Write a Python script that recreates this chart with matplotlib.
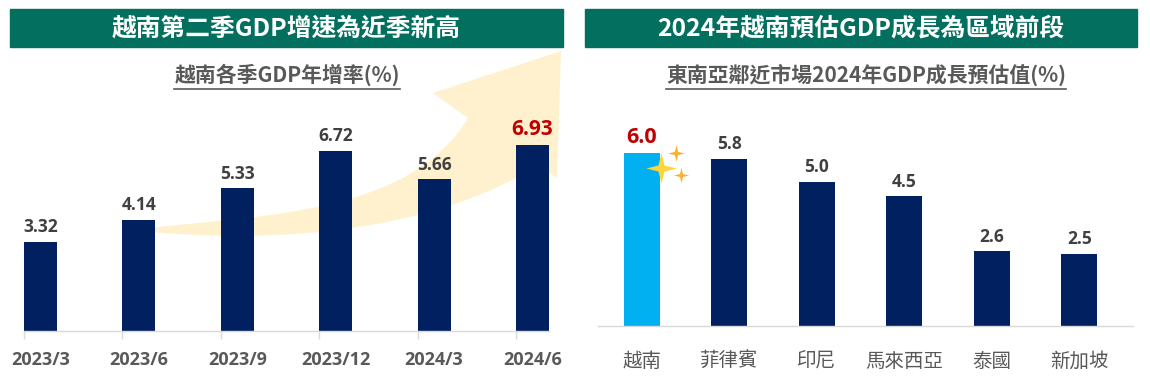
import matplotlib
matplotlib.use("Agg")
import matplotlib.pyplot as plt
from matplotlib.patches import Rectangle, PathPatch
from matplotlib.path import Path
from matplotlib.lines import Line2D
import numpy as np

# ---------------- data ----------------
left_title = "越南第二季GDP增速為近季新高"
left_subtitle = "越南各季GDP年增率(%)"
quarters = ["2023/3", "2023/6", "2023/9", "2023/12", "2024/3", "2024/6"]
quarter_growth = [3.32, 4.14, 5.33, 6.72, 5.66, 6.93]

right_title = "2024年越南預估GDP成長為區域前段"
right_subtitle = "東南亞鄰近市場2024年GDP成長預估值(%)"
countries = ["越南", "菲律賓", "印尼", "馬來西亞", "泰國", "新加坡"]
forecast_growth = [6.0, 5.8, 5.0, 4.5, 2.6, 2.5]

# ---------------- style ----------------
W, H = 1150, 386
GREEN = "#03705F"
NAVY = "#002060"
SKY = "#00B0F0"
RED = "#C00000"
GREY_TXT = "#595959"
VAL_TXT = "#404040"
AXIS_GREY = "#D9D9D9"
ARROW = "#FFF1CE"
CJK = ["Noto Sans CJK TC", "DejaVu Sans"]
NUM = ["Open Sans", "DejaVu Sans"]

def fx(x):
    return x / W

def fy(y):
    return 1 - y / H

fig = plt.figure(figsize=(W / 100, H / 100), dpi=100)
fig.patch.set_facecolor("white")

# headers
for x0, x1, title in [(10, 563, left_title), (585, 1137, right_title)]:
    fig.add_artist(Rectangle((fx(x0), fy(47)), (x1 - x0) / W, 38 / H,
                             transform=fig.transFigure, color=GREEN, zorder=0.2))
    fig.text(fx((x0 + x1) / 2), fy(28.5), title, ha="center", va="center",
             color="white", fontsize=17.8, fontweight="bold", family=CJK, zorder=3)

subs = []
for xc, sub in [(287, left_subtitle), (866, right_subtitle)]:
    t = fig.text(fx(xc), fy(75), sub, ha="center", va="center",
                 color=GREY_TXT, fontsize=15, fontweight="bold", family=CJK)
    subs.append(t)

# decorative curved arrow (pixel coords, y downward)
verts_px = [
    (150, 228),
    (260, 215), (410, 215), (468, 118),
    (433, 93),
    (561, 51),
    (557, 178),
    (538, 165),
    (460, 215), (330, 247), (150, 232),
    (150, 228),
]
codes = [Path.MOVETO,
         Path.CURVE4, Path.CURVE4, Path.CURVE4,
         Path.LINETO, Path.LINETO, Path.LINETO, Path.LINETO,
         Path.CURVE4, Path.CURVE4, Path.CURVE4,
         Path.CLOSEPOLY]
verts = [(fx(x), fy(y)) for x, y in verts_px]
fig.add_artist(PathPatch(Path(verts, codes), transform=fig.transFigure,
                         facecolor=ARROW, edgecolor="none", zorder=0.5))

# ---------------- left chart ----------------
bw1 = 0.335
ax1 = fig.add_axes([fx(24), (H - 331) / H, 525 / W, 8 * 26.8 / H])
ax1.set_zorder(1)
ax1.patch.set_visible(False)
x1 = np.arange(len(quarters))
ax1.bar(x1, quarter_growth, width=bw1, color=NAVY, zorder=2)
ax1.set_xlim(-bw1 / 2, len(quarters) - 1 + bw1 / 2)
ax1.set_ylim(0, 8)
for i, v in enumerate(quarter_growth):
    last = i == len(quarter_growth) - 1
    ax1.annotate(f"{v:.2f}", (i, v), xytext=(0, 4), textcoords="offset points",
                 ha="center", va="bottom", fontweight="bold",
                 fontsize=15 if last else 12.5, color=RED if last else VAL_TXT,
                 family=NUM)
ax1.set_xticks(x1)
ax1.set_xticklabels(quarters, fontsize=13, fontweight="bold", color=GREY_TXT, family=NUM)
ax1.tick_params(axis="x", which="major", length=0, pad=14.5)
ax1.set_xticks(x1 - bw1 / 2, minor=True)
ax1.tick_params(axis="x", which="minor", length=6, color=AXIS_GREY, width=1)
ax1.set_yticks([])
for s in ["top", "right", "left"]:
    ax1.spines[s].set_visible(False)
ax1.spines["bottom"].set_color(AXIS_GREY)
ax1.spines["bottom"].set_linewidth(1)

# ---------------- right chart ----------------
bw2 = 0.41
sx = 87.5
ax2 = fig.add_axes([fx(598), (H - 326) / H, 6.11 * sx / W, 7 * 28.8 / H])
ax2.patch.set_visible(False)
x2 = np.arange(len(countries))
colors2 = [SKY] + [NAVY] * (len(countries) - 1)
ax2.bar(x2, forecast_growth, width=bw2, color=colors2, zorder=2)
ax2.set_xlim(-0.5, -0.5 + 6.11)
ax2.set_ylim(0, 7)
for i, v in enumerate(forecast_growth):
    first = i == 0
    ax2.annotate(f"{v:.1f}", (i, v), xytext=(0, 4), textcoords="offset points",
                 ha="center", va="bottom", fontweight="bold",
                 fontsize=15.5 if first else 12.5, color=RED if first else VAL_TXT,
                 family=NUM)
ax2.set_xticks(x2)
ax2.set_xticklabels(countries, fontsize=14, color=GREY_TXT, family=CJK)
ax2.tick_params(axis="x", length=0, pad=18)
ax2.set_yticks([])
for s in ["top", "right", "left"]:
    ax2.spines[s].set_visible(False)
ax2.spines["bottom"].set_color(AXIS_GREY)
ax2.spines["bottom"].set_linewidth(1)

# sparkles near the highlighted bar
star_verts = []
for k in range(4):
    a = np.pi / 2 * k
    star_verts.append((np.cos(a), np.sin(a)))
    b = a + np.pi / 4
    star_verts.append((0.28 * np.cos(b), 0.28 * np.sin(b)))
star_verts.append(star_verts[0])
star = Path(star_verts, [Path.MOVETO] + [Path.LINETO] * 7 + [Path.CLOSEPOLY])
for (px, py), ms, col in [((661, 168), 22, "#FFD43B"),
                          ((676, 153), 12, "#F9B233"),
                          ((681, 175), 11, "#F9B233")]:
    fig.add_artist(Line2D([fx(px)], [fy(py)], marker=star, markersize=ms,
                          color=col, markeredgewidth=0, linestyle="none",
                          transform=fig.transFigure, zorder=5))

# underline subtitles
fig.canvas.draw()
r = fig.canvas.get_renderer()
for t in subs:
    bb = t.get_window_extent(renderer=r).transformed(fig.transFigure.inverted())
    fig.add_artist(Line2D([bb.x0, bb.x1], [fy(89), fy(89)], color=GREY_TXT,
                          linewidth=1.2, transform=fig.transFigure))

fig.savefig("out.png", dpi=100, facecolor="white")
